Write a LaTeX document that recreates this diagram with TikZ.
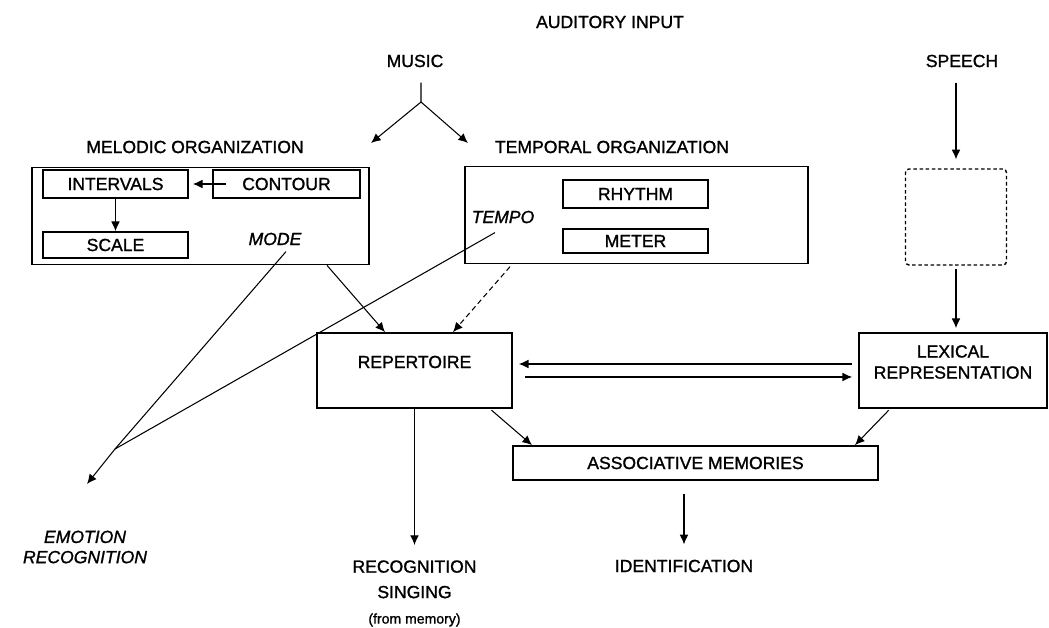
\documentclass[tikz,border=0pt]{standalone}
\usepackage{fontspec}
\setmainfont[FakeBold = 1.2]{Liberation Sans}
\usetikzlibrary{positioning, arrows.meta}

\begin{document}
\begin{tikzpicture}[x = 0.02cm, y = -0.02cm, -{Latex[length = 5.5pt, width = 5pt]}, line width = 0.6pt,
box/.style ={rectangle, draw, line width = 1pt, text = black, inner sep = 0pt},
lbl/.style ={font = \fontsize{10}{14.5}\selectfont, align = center},
ital/.style ={font = \fontsize{10}{11.5}\selectfont\itshape, align = center}]
\useasboundingbox (0,0) rectangle (1049,628);

\node[lbl] (input) at (610,22) {AUDITORY INPUT};
\node[lbl] (music) at (415,61) {MUSIC};
\node[lbl] (speech) at (962,61) {SPEECH};
\node[lbl] (mellbl) at (195,147) {MELODIC ORGANIZATION};
\node[lbl] (temlbl) at (612,147) {TEMPORAL ORGANIZATION};

\node[box, minimum width = 6.74cm, minimum height = 1.94cm] (melodic) at (200.5,216) {};
\node[box, lbl, minimum width = 2.9cm, minimum height = 0.56cm] (intervals) at (115.5,184) {INTERVALS};
\node[box, lbl, minimum width = 2.94cm, minimum height = 0.56cm] (contour) at (286.5,184) {CONTOUR};
\node[box, lbl, minimum width = 2.9cm, minimum height = 0.52cm] (scale) at (115.5,245) {SCALE};
\node[ital] (mode) at (275,239) {MODE};

\node[box, minimum width = 6.86cm, minimum height = 1.94cm] (temporal) at (636.5,215) {};
\node[box, lbl, minimum width = 2.9cm, minimum height = 0.56cm] (rhythm) at (635.5,194) {RHYTHM};
\node[box, lbl, minimum width = 2.9cm, minimum height = 0.48cm] (meter) at (635.5,241) {METER};
\node[ital] (tempo) at (503,217) {TEMPO};

\node[box, line width = 0.8pt, dash pattern = on 2pt off 1.5pt, rounded corners = 2pt,
  minimum width = 2.02cm, minimum height = 1.92cm] (sbox) at (956,217) {};

\node[box, minimum width = 3.9cm, minimum height = 1.5cm,
  label = {[lbl, yshift = 0.17cm]center:REPERTOIRE}] (rep) at (414.5,370.5) {};
\node[box, minimum width = 3.76cm, minimum height = 1.5cm,
  label = {[lbl, yshift = 0.17cm, font = \fontsize{10}{12}\selectfont]center:LEXICAL\\REPRESENTATION}] (lex) at (953,370.5) {};
\node[box, lbl, minimum width = 7.3cm, minimum height = 0.68cm] (assoc) at (695.5,463) {ASSOCIATIVE MEMORIES};

\node[ital] (emotion) at (85,547) {EMOTION\\RECOGNITION};
\node[lbl, anchor = north] (recog) at (414.5,554) {RECOGNITION\\SINGING\\{\fontsize{8}{14.5}\selectfont (from memory)}};
\node[lbl] (ident) at (684,566) {IDENTIFICATION};

\coordinate (fork) at (421,102);
\coordinate (melin) at (371,143);
\coordinate (temin) at (468,143);
\coordinate (junc) at (115,449);
\coordinate (emotip) at (87,484);

% input branches
\draw[-, shorten <= 0.18cm] ([xshift = 0.12cm]music.south) -- (fork);
\draw (fork) -- (melin);
\draw (fork) -- (temin);
\draw[shorten <= 0.18cm, shorten >= 0.18cm] (speech.south -| sbox.north) -- (sbox.north);
\draw[shorten <= 0.06cm, shorten >= 0.08cm] (sbox.south) -- (sbox.south |- lex.north);

% inside melodic organization
\draw[shorten <= -0.28cm, shorten >= 0.08cm] (contour.west) -- (intervals.east);
\draw (intervals.south) -- (scale.north);

% towards the repertoire
\draw ([xshift = 2.53cm]melodic.south) -- ([xshift = -0.59cm]rep.north);
\draw[densely dashed, shorten <= 0.06cm] ([xshift = -2.49cm]temporal.south) -- ([xshift = 0.77cm]rep.north);
\draw[shorten <= 0.12cm, shorten >= 0.12cm] ([yshift = 0.13cm]lex.west) -- ([yshift = 0.13cm]rep.east);
\draw[shorten <= 0.24cm, shorten >= 0.12cm] ([yshift = -0.13cm]rep.east) -- ([yshift = -0.13cm]lex.west);

% emotion
\draw[-] ([xshift = 0.22cm]mode.south) -- (junc);
\draw[-] ([xshift = -0.16cm, yshift = -0.06cm]tempo.south) -- (junc);
\draw (junc) -- (emotip);

% outputs
\draw[shorten <= 0.04cm] ([xshift = 1.51cm]rep.south) -- ([xshift = -3.27cm]assoc.north);
\draw[shorten <= 0.04cm] ([xshift = -1.26cm]lex.south) -- ([xshift = 3.19cm]assoc.north);
\draw[shorten >= 0.18cm] (rep.south) -- (recog.north);
\draw[shorten <= 0.26cm, shorten >= 0.18cm] (assoc.south -| ident.north) -- (ident.north);
\end{tikzpicture}
\end{document}
